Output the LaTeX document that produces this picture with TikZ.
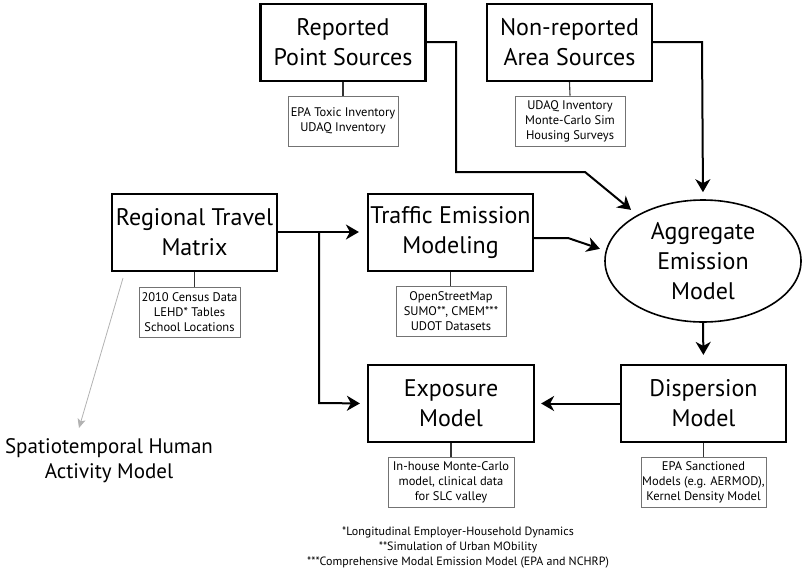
\documentclass[tikz,border=0pt]{standalone}
\usepackage{fontspec}
\setmainfont{PT Sans}
\usetikzlibrary{shapes.geometric,arrows.meta}
\begin{document}
\begin{tikzpicture}[x=1pt,y=-1pt,
  bigbox/.style={draw=black,line width=2.2pt,minimum width=165pt,minimum height=77pt,
    align=center,font=\fontsize{24}{30}\selectfont,inner sep=0pt},
  subbox/.style={draw=black!55,line width=0.9pt,minimum height=50pt,
    align=center,font=\fontsize{12.5}{15}\selectfont,inner sep=0pt},
  tie/.style={draw=black!80,line width=1.1pt},
  flow/.style={draw=black,line width=2pt,
    -{Stealth[length=13pt,width=15pt,inset=4pt]}},
  softflow/.style={draw=black!30,line width=0.8pt,
    -{Stealth[length=9pt,width=8pt,inset=2pt]}}]
\useasboundingbox (0,0) rectangle (802,573);

% source boxes
\node[bigbox] (rps) at (343,42.5) {Reported\\Point Sources};
\node[bigbox] (nrs) at (569.5,42.5) {Non-reported\\Area Sources};
\node[subbox,minimum width=110pt] (rpsd) at (343,121) {EPA Toxic Inventory\\UDAQ Inventory};
\node[subbox,minimum width=110pt] (nrsd) at (570,121) {UDAQ Inventory\\Monte-Carlo Sim\\Housing Surveys};

% travel and traffic
\node[bigbox] (rtm) at (194.5,232.5) {Regional Travel\\Matrix};
\node[bigbox] (tem) at (450.5,232.5) {Traffic Emission\\Modeling};
\node[subbox,minimum width=101pt] (rtmd) at (189.5,312) {2010 Census Data\\LEHD* Tables\\School Locations};
\node[subbox,minimum width=110pt] (temd) at (451,311.5) {OpenStreetMap\\SUMO**, CMEM***\\UDOT Datasets};

% aggregate model
\node[draw=black,line width=1.6pt,ellipse,minimum width=196pt,minimum height=122pt,
  inner sep=0pt,align=center,font=\fontsize{24}{30}\selectfont] (aem) at (703,261)
  {Aggregate\\Emission\\Model};

% exposure and dispersion
\node[bigbox,minimum width=166pt] (exp) at (451,403.5) {Exposure\\Model};
\node[bigbox] (dis) at (703.5,403.5) {Dispersion\\Model};
\node[subbox,minimum width=126pt] (expd) at (451,482) {In-house Monte-Carlo\\model, clinical data\\for SLC valley};
\node[subbox,minimum width=125pt] (disd) at (703.5,482) {EPA Sanctioned\\Models (e.g. AERMOD),\\Kernel Density Model};

% human activity model
\node[align=center,font=\fontsize{21}{25}\selectfont] (sham) at (109,461)
  {Spatiotemporal Human\\Activity Model};

% footnotes
\node[align=center,font=\fontsize{12}{15}\selectfont] (notes) at (458,548)
  {*Longitudinal Employer-Household Dynamics\\**Simulation of Urban MObility\\***Comprehensive Modal Emission Model (EPA and NCHRP)};

% ties to data boxes
\draw[tie] (rps.south) -- (rpsd.north);
\draw[tie] (nrs.south) -- (nrsd.north);
\draw[tie] (rtm.south) -- (rtm.south |- rtmd.north);
\draw[tie] (tem.south) -- (tem.south |- temd.north);
\draw[tie] (exp.south) -- (expd.north);
\draw[tie] (dis.south) -- (disd.north);

% flows
\coordinate (rpsA) at (456,42);
\coordinate (rpsB) at (456,172);
\coordinate (rpsC) at (585,172);
\draw[flow,shorten >=8pt] (rps.east |- rpsA) -- (rpsA) -- (rpsB) -- (rpsC) -- (aem.145);

\coordinate (nrsA) at (702,42);
\draw[flow,shorten >=7pt] (nrs.east |- nrsA) -- (nrsA) -- (aem.north);

\coordinate (temA) at (568,238);
\draw[flow,shorten >=6pt] (tem.east |- temA) -- (temA) -- (aem.174);

\coordinate (split) at (319,232);
\draw[flow,shorten >=8pt] (rtm.east |- split) -- (tem.west |- split);
\coordinate (splitB) at (319,403);
\draw[flow,shorten >=7pt] (split) -- (splitB) -- (exp.west);

\draw[flow,shorten >=9pt] (aem.south) -- (dis.north);
\draw[flow,shorten >=6pt] (dis.west) -- (exp.east);

\coordinate (actStart) at (123,278);
\coordinate (actEnd) at (79,428);
\draw[softflow] (actStart) -- (actEnd);
\end{tikzpicture}
\end{document}
